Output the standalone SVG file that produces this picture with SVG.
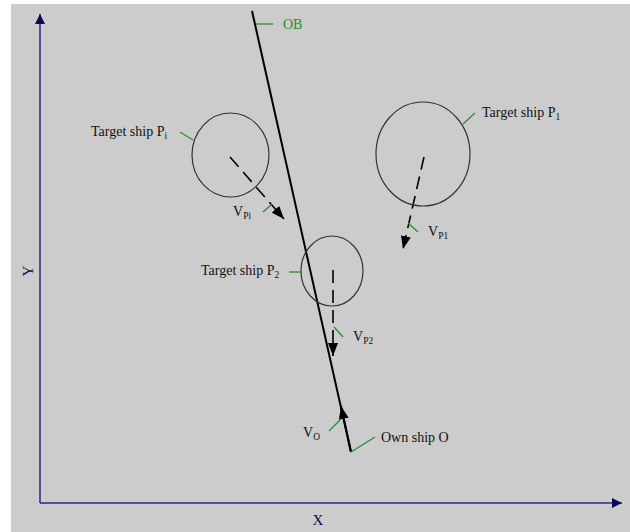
<svg xmlns="http://www.w3.org/2000/svg" width="630" height="532" viewBox="0 0 630 532">
<defs>
<marker id="ah" markerUnits="userSpaceOnUse" markerWidth="14" markerHeight="10" refX="13" refY="5" orient="auto"><path d="M0,0 L13,5 L0,10 z" fill="#000"/></marker>
<marker id="ax" markerUnits="userSpaceOnUse" markerWidth="11" markerHeight="10" refX="10" refY="5" orient="auto"><path d="M0,0 L10,5 L0,10 z" fill="#0b0b55"/></marker>
</defs>
<style>
.t{font-family:"Liberation Serif","Times New Roman",serif;font-size:14px;fill:#111}
.sub{font-size:9.5px}
.lead{stroke:#2e8b2e;stroke-width:1.3;fill:none}
.ship{fill:none;stroke:#333;stroke-width:1.2}
.vel{stroke:#000;stroke-width:1.6;stroke-dasharray:13,7;fill:none}
.axis{stroke:#2a2a8a;stroke-width:1.5;fill:none}
.axl{font-family:"Liberation Serif","Times New Roman",serif;font-size:15px;fill:#0b0b55}
</style>
<rect x="11" y="4" width="619" height="528" fill="#cccccc"/>
<g id="axes">
<path class="axis" d="M40,503 V14" marker-end="url(#ax)"/>
<path class="axis" d="M40,503 H622" marker-end="url(#ax)"/>
<text class="axl" x="318" y="525" text-anchor="middle">X</text>
<text class="axl" transform="translate(33,271) rotate(-90)" text-anchor="middle">Y</text>
</g>
<g id="connectors">
<path d="M351,452 L252,11" stroke="#000" stroke-width="2" fill="none"/>
<path d="M351,452 L341,406" stroke="#000" stroke-width="2" fill="none" marker-end="url(#ah)"/>
<path class="vel" d="M230,157 L284,219" marker-end="url(#ah)"/>
<path class="vel" d="M424,157 L403,249" marker-end="url(#ah)"/>
<path class="vel" d="M333,270 L333,356" marker-end="url(#ah)"/>
</g>
<g id="ob-label">
<path class="lead" d="M256,24 H273"/>
<text class="t" x="283" y="29" style="fill:#2e8b2e">OB</text>
</g>
<g id="ship-pi">
<ellipse class="ship" cx="230.5" cy="155" rx="38.5" ry="42"/>
<path class="lead" d="M180,132 L193,140"/>
<text class="t" x="91" y="136">Target ship P<tspan class="sub" dy="3">i</tspan></text>
<path class="lead" d="M263,212 L272,204"/>
<text class="t" x="233" y="216">V<tspan class="sub" dy="3">Pi</tspan></text>
</g>
<g id="ship-p1">
<ellipse class="ship" cx="423" cy="154" rx="47" ry="52"/>
<path class="lead" d="M463,124 L475,113"/>
<text class="t" x="482" y="117">Target ship P<tspan class="sub" dy="3">1</tspan></text>
<path class="lead" d="M408,223 L418,232"/>
<text class="t" x="428" y="236">V<tspan class="sub" dy="3">P1</tspan></text>
</g>
<g id="ship-p2">
<ellipse class="ship" cx="332" cy="271" rx="31" ry="35"/>
<path class="lead" d="M289,272 H301"/>
<text class="t" x="201" y="275">Target ship P<tspan class="sub" dy="3">2</tspan></text>
<path class="lead" d="M334,327 L343,337"/>
<text class="t" x="353" y="341">V<tspan class="sub" dy="3">P2</tspan></text>
</g>
<g id="own-ship">
<path class="lead" d="M329,431 L341,419"/>
<text class="t" x="303" y="437">V<tspan class="sub" dy="3">O</tspan></text>
<path class="lead" d="M351,452 L375,437"/>
<text class="t" x="381" y="442">Own ship O</text>
</g>
</svg>
